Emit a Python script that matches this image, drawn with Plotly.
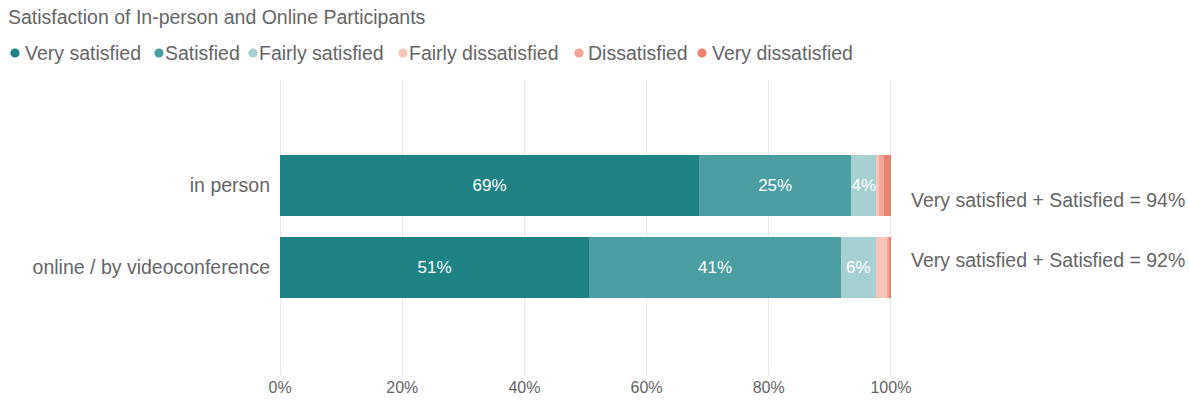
import plotly.graph_objects as go

categories = ["in person", "online / by videoconference"]
series_names = ["Very satisfied", "Satisfied", "Fairly satisfied",
                "Fairly dissatisfied", "Dissatisfied", "Very dissatisfied"]
very_satisfied = [68.6, 50.6]
satisfied = [24.9, 41.2]
fairly_satisfied = [4.1, 5.7]
fairly_dissatisfied = [0.4, 2.0]
dissatisfied = [0.9, 0.2]
very_dissatisfied = [1.1, 0.3]
x_tick_vals = [0, 20, 40, 60, 80, 100]
x_tick_text = ["0%", "20%", "40%", "60%", "80%", "100%"]

colors = ["#1f8386", "#4b9ea1", "#a6d0d2", "#f6c4b9", "#f1a697", "#e9826f"]
series_values = [very_satisfied, satisfied, fairly_satisfied,
                 fairly_dissatisfied, dissatisfied, very_dissatisfied]

W, H = 1189, 401
L, R, T, B = 279, 297, 80, 26
PW = W - L - R
PH = H - T - B
FONT = "Liberation Sans, Arial, sans-serif"
GRAY = "#666666"

fig = go.Figure()
for name, vals, col in zip(series_names, series_values, colors):
    fig.add_trace(go.Bar(
        name=name, y=categories, x=vals, orientation="h",
        marker=dict(color=col, line=dict(width=0)),
        text=[f"{round(v)}%" if v >= 3 else "" for v in vals],
        textposition="inside", insidetextanchor="middle", textangle=0,
        constraintext="none", cliponaxis=False,
        textfont=dict(color="white", size=17, family=FONT),
        width=0.745, showlegend=False,
        hovertemplate=name + ": %{x:.1f}%<extra></extra>",
    ))

# Custom legend (circle + label)
legend_circle_px = [15, 159, 253, 403, 579, 702]
legend_text_px = [25, 165, 259, 409, 588, 712]
legend_y_px = 53
shapes = []
annotations = []
for name, col, cx, tx in zip(series_names, colors, legend_circle_px, legend_text_px):
    px = (cx - L) / PW
    py = (H - B - legend_y_px) / PH
    shapes.append(dict(type="circle", xref="paper", yref="paper",
                       xsizemode="pixel", ysizemode="pixel",
                       xanchor=px, yanchor=py, x0=-4.6, x1=4.6, y0=-4.6, y1=4.6,
                       fillcolor=col, line=dict(width=0)))
    annotations.append(dict(text=name, xref="paper", yref="paper",
                            x=(tx - 2 - L) / PW, y=py, xanchor="left", yanchor="middle",
                            showarrow=False, font=dict(size=19.5, color=GRAY, family=FONT)))

# Side annotations
top_sums = [a + b for a, b in zip(very_satisfied, satisfied)]
shifts = [-14.5, 7.5]
for cat, s, sh in zip(categories, top_sums, shifts):
    annotations.append(dict(text=f"Very satisfied + Satisfied = {round(s)}%",
                            xref="paper", yref="y", x=(909 - L) / PW, y=cat,
                            xanchor="left", yanchor="middle", yshift=sh,
                            showarrow=False,
                            font=dict(size=19.5, color=GRAY, family=FONT)))

fig.update_layout(
    width=W, height=H,
    margin=dict(l=L, r=R, t=T, b=B, autoexpand=False),
    barmode="stack",
    plot_bgcolor="white", paper_bgcolor="white",
    font=dict(family=FONT, color=GRAY),
    title=dict(text="Satisfaction of In-person and Online Participants",
               x=8 / W, xanchor="left", xref="container",
               y=1 - 17 / H, yanchor="middle", yref="container",
               font=dict(size=19.5, color=GRAY, family=FONT)),
    xaxis=dict(range=[-0.18, 100.18], tickvals=x_tick_vals, ticktext=x_tick_text,
               showgrid=True, gridcolor="#e8e8e8", gridwidth=1, automargin=False,
               zeroline=False, showline=False, ticks="", ticklabelstandoff=1,
               tickfont=dict(size=16, color=GRAY, family=FONT)),
    yaxis=dict(type="category", categoryorder="array", categoryarray=categories,
               range=[2.311, -1.287], showgrid=False, zeroline=False, automargin=False,
               showline=False, ticks="", ticklabelstandoff=8,
               tickfont=dict(size=19.5, color=GRAY, family=FONT)),
    shapes=shapes, annotations=annotations,
    showlegend=False,
)

fig.write_html("out.html")
